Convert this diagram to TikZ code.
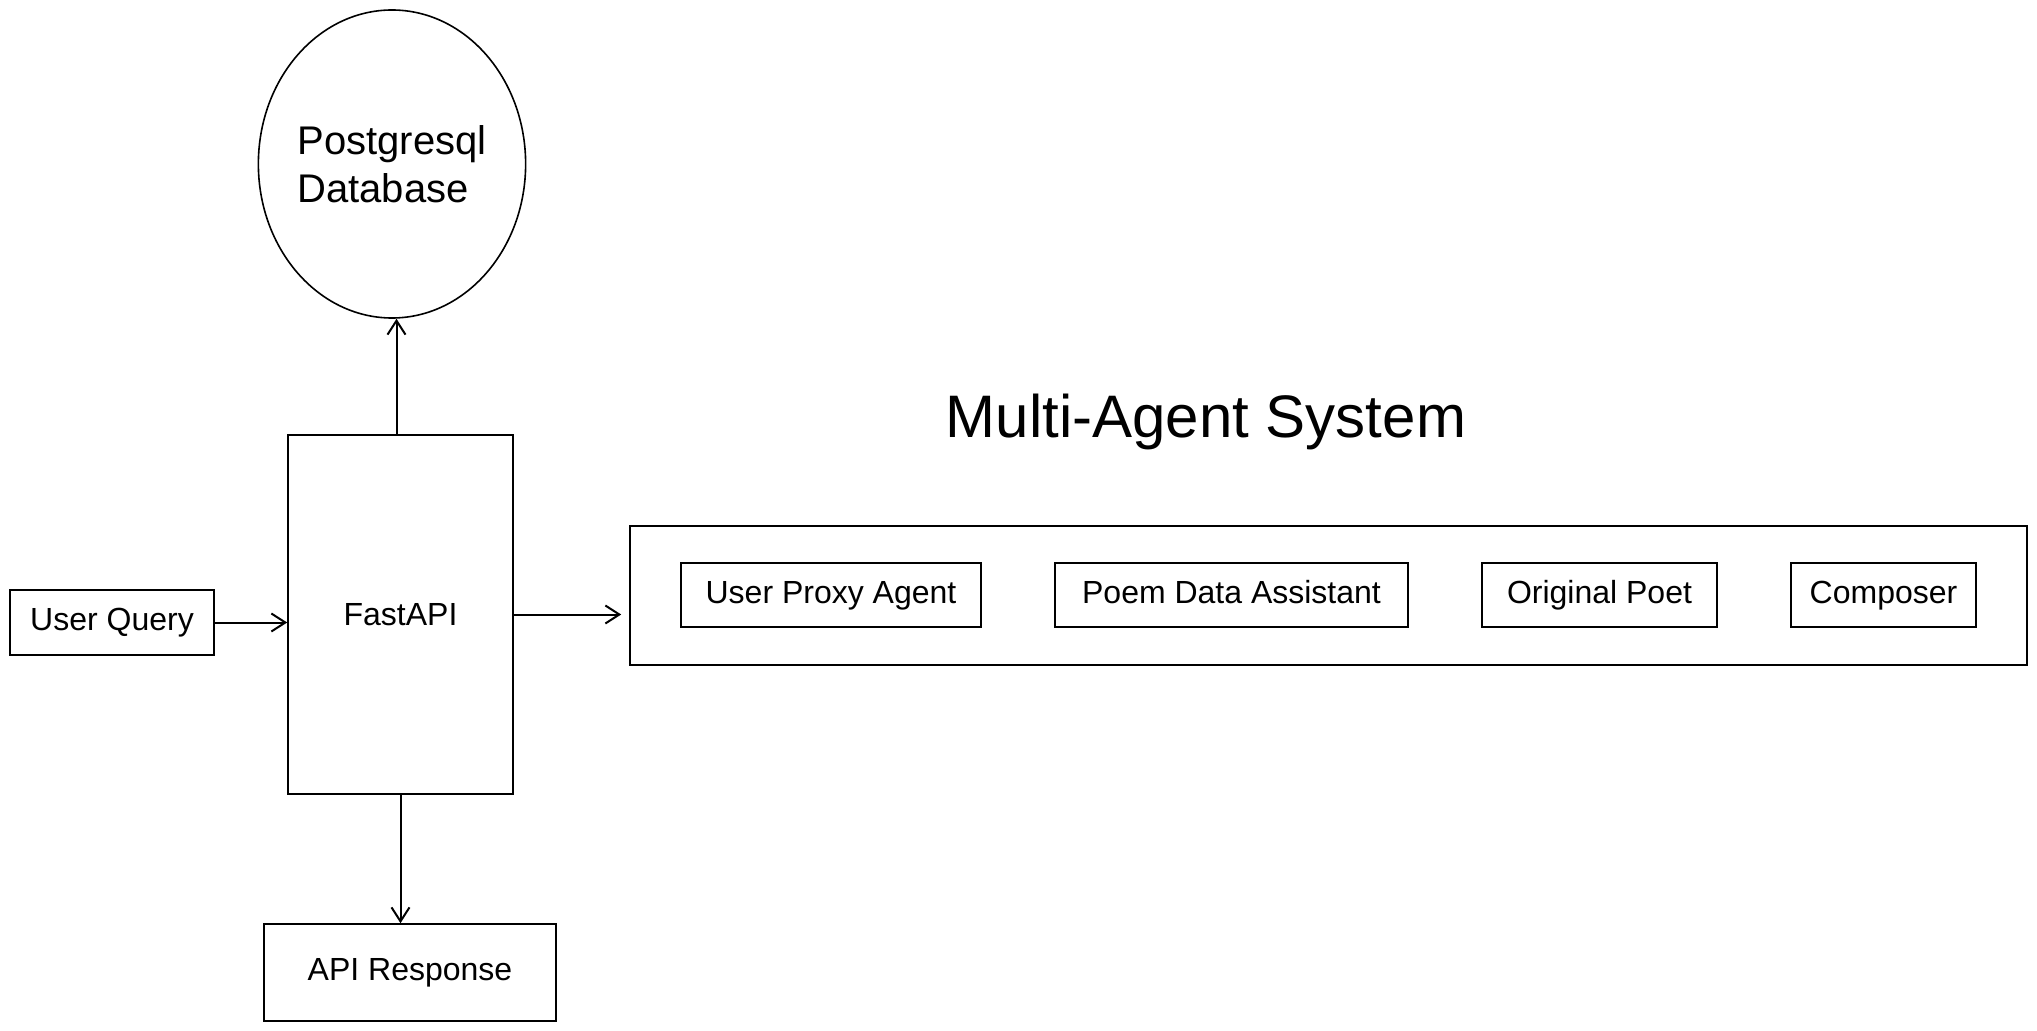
\documentclass[tikz,border=0pt]{standalone}
\usepackage{fontspec}
\setmainfont{Liberation Sans}
\usepackage{tikz}
\usetikzlibrary{arrows.meta, shapes.geometric, positioning}

\tikzset{
    box/.style={draw, line width=.8pt, inner sep=0pt, font=\fontsize{16}{19}\selectfont},
    agent/.style={box, minimum height=32pt, text height=11.5pt, text depth=3.5pt},
    link/.style={line width=1pt, -{Straight Barb[length=7pt, width=9pt, line width=1pt]}}
}

\begin{document}
\begin{tikzpicture}[x=.5pt, y=-.5pt]
    \useasboundingbox (0, 0) rectangle (2037, 1031);
\node[box, ellipse, minimum width=117.5pt, minimum height=154pt, align=left,
    font=\fontsize{20}{24}\selectfont] (db) at (392, 164) {Postgresql\\Database};
\node[box, minimum width=112.5pt, minimum height=179.5pt] (api) at (400.5, 614.5) {FastAPI};
\node[agent, minimum width=102pt, minimum height=32.5pt] (query) at (112, 622.5) {User Query};
\node[agent, minimum width=146pt, minimum height=48.5pt] (resp) at (410, 972.5) {API Response};
\node[font=\fontsize{30}{36}\selectfont] (title) at (1206, 422) {Multi-Agent System};
\node[box, minimum width=698.5pt, minimum height=69.5pt] (mas) at (1328.5, 595.5) {};
\node[agent, minimum width=150pt] (proxy) at (831, 595) {User Proxy Agent};
\node[agent, minimum width=176.5pt] (data) at (1231.5, 595) {Poem Data Assistant};
\node[agent, minimum width=117.5pt] (poet) at (1599.5, 595) {Original Poet};
\node[agent, minimum width=92.5pt] (composer) at (1883.5, 595) {Composer};
\draw[link] (query.east) -- (query.east -| api.west);
\draw[link] ([xshift=-2pt]api.north) -- ([xshift=-2pt]api.north |- db.south);
\draw[link] (api.south) -- (api.south |- resp.north);
\draw[link, shorten >=4pt] (api.east) -- (api.east -| mas.west);
    \end{tikzpicture}
\end{document}
